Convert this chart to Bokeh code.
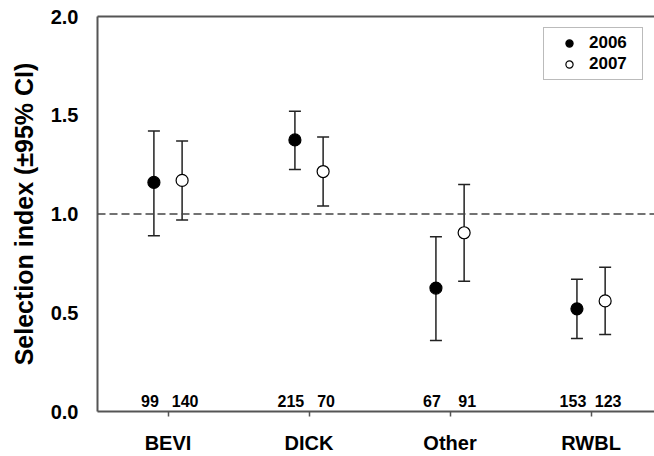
from bokeh.plotting import figure
from bokeh.models import (Range1d, FixedTicker, Whisker, TeeHead, ColumnDataSource,
                          Span, Legend, LegendItem, LinearAxis, NumeralTickFormatter)
from bokeh.core.properties import value
from bokeh.embed import file_html
from bokeh.resources import INLINE

# ---- data ----
categories = ["BEVI", "DICK", "Other", "RWBL"]
mean_2006 = [1.16, 1.375, 0.625, 0.52]
low_2006 = [0.89, 1.225, 0.36, 0.37]
high_2006 = [1.42, 1.52, 0.885, 0.67]
n_2006 = ["99", "215", "67", "153"]
mean_2007 = [1.17, 1.215, 0.905, 0.56]
low_2007 = [0.97, 1.04, 0.66, 0.39]
high_2007 = [1.37, 1.39, 1.15, 0.73]
n_2007 = ["140", "70", "91", "123"]
y_ticks = [0.0, 0.5, 1.0, 1.5, 2.0]
reference_level = 1.0

FONT = "Liberation Sans"
DODGE = 0.1
N_LABEL_Y = 0.022

pos = list(range(1, len(categories) + 1))
x06 = [p_ - DODGE for p_ in pos]
x07 = [p_ + DODGE for p_ in pos]

src06 = ColumnDataSource(dict(x=x06, y=mean_2006, lo=low_2006, hi=high_2006, n=n_2006,
                              ny=[N_LABEL_Y] * len(pos)))
src07 = ColumnDataSource(dict(x=x07, y=mean_2007, lo=low_2007, hi=high_2007, n=n_2007,
                              ny=[N_LABEL_Y] * len(pos)))

p = figure(width=654, height=456, output_backend="svg", toolbar_location=None,
           x_range=Range1d(0.5, 4.45), y_range=Range1d(0, 2),
           min_border_left=97, min_border_right=0, min_border_top=16, min_border_bottom=45)
p.xgrid.visible = False
p.ygrid.visible = False
p.outline_line_color = None
p.background_fill_color = "white"

AX = "#555555"
# x axis
xa = p.xaxis[0]
xa.ticker = FixedTicker(ticks=pos)
xa.major_label_overrides = {i: c for i, c in zip(pos, categories)}
xa.axis_line_color = AX
xa.axis_line_width = 2
xa.major_tick_line_color = AX
xa.major_tick_line_width = 1.5
xa.major_tick_out = 5
xa.major_tick_in = 0
xa.minor_tick_line_color = None
xa.major_label_text_font = FONT
xa.major_label_text_font_style = "bold"
xa.major_label_text_font_size = "20px"
xa.major_label_text_color = "black"
xa.major_label_standoff = 15

# y axis
ya = p.yaxis[0]
ya.ticker = FixedTicker(ticks=y_ticks)
ya.formatter = NumeralTickFormatter(format="0.0")
ya.axis_line_color = AX
ya.axis_line_width = 2
ya.major_tick_line_color = None
ya.major_tick_out = 0
ya.major_tick_in = 0
ya.minor_tick_line_color = None
ya.major_label_text_font = FONT
ya.major_label_text_font_style = "bold"
ya.major_label_text_font_size = "20px"
ya.major_label_text_color = "black"
ya.major_label_standoff = 19
ya.axis_label = "Selection index (\u00b195% CI)"
ya.axis_label_text_font = FONT
ya.axis_label_text_font_style = "bold"
ya.axis_label_text_font_size = "25px"
ya.axis_label_text_color = "black"
ya.axis_label_standoff = 10

# top frame line
top = LinearAxis(ticker=FixedTicker(ticks=[]), axis_line_color=AX, axis_line_width=2,
                 major_tick_line_color=None, minor_tick_line_color=None,
                 major_label_text_font_size="0px")
p.add_layout(top, "above")

# reference line
p.add_layout(Span(location=reference_level, dimension="width", line_color="#444444",
                  line_width=1.5, line_dash="8 4"))

# error bars
for src in (src06, src07):
    w = Whisker(source=src, base="x", upper="hi", lower="lo", line_color="#222222",
                line_width=1.5,
                upper_head=TeeHead(size=12, line_color="#222222", line_width=1.5),
                lower_head=TeeHead(size=12, line_color="#222222", line_width=1.5))
    p.add_layout(w)

r06 = p.scatter("x", "y", source=src06, size=12, fill_color="black", line_color="black",
                line_width=1.2)
r07 = p.scatter("x", "y", source=src07, size=12, fill_color="white", line_color="black",
                line_width=1.2)

# sample sizes
for src, dx in ((src06, -4), (src07, 3)):
    p.text("x", "ny", text="n", source=src, text_font=value(FONT), text_font_style="bold",
           text_font_size="16px", text_align="center", text_baseline="bottom",
           text_color="black", x_offset=dx)

legend = Legend(items=[LegendItem(label="2006", renderers=[r06]),
                       LegendItem(label="2007", renderers=[r07])],
                location="top_right", margin=11, padding=5, spacing=1,
                glyph_width=40, glyph_height=18, label_height=18, label_width=48,
                label_standoff=-3, border_line_color="#777777", border_line_width=1,
                background_fill_color="white", background_fill_alpha=1,
                label_text_font=FONT, label_text_font_style="bold",
                label_text_font_size="17px", label_text_color="black")
p.add_layout(legend)

open("out.html", "w").write(file_html(p, INLINE))
